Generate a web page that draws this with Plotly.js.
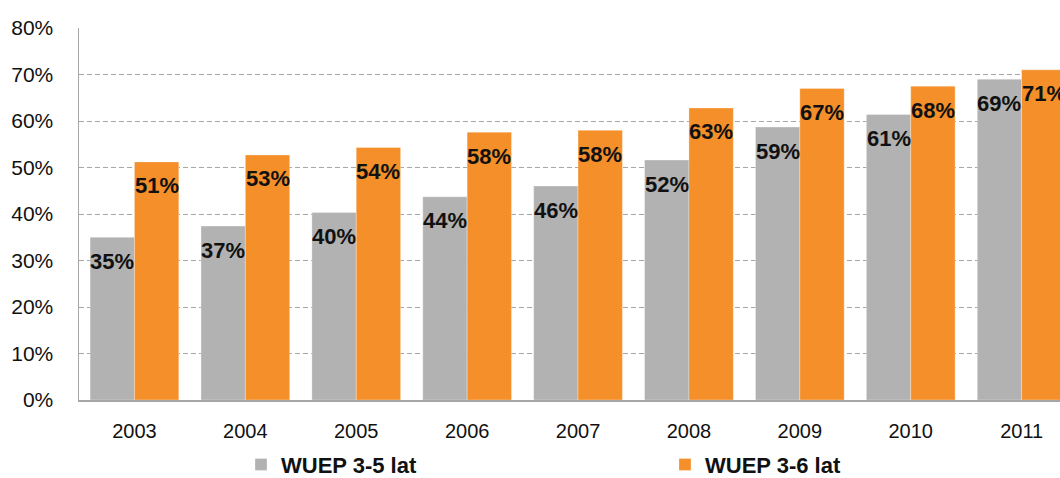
<!DOCTYPE html>
<html>
<head>
<meta charset="utf-8">
<script src="https://cdn.plot.ly/plotly-3.0.1.min.js"></script>
<style>
  html, body { margin: 0; padding: 0; background: #ffffff; overflow: hidden; }
  #chart { width: 1060px; height: 478px; }
</style>
</head>
<body>
<div id="chart"></div>
<script>
const years = ['2003', '2004', '2005', '2006', '2007', '2008', '2009', '2010', '2011'];
const wuep35 = [35.0, 37.4, 40.3, 43.7, 46.0, 51.6, 58.7, 61.4, 69.0];
const wuep36 = [51.2, 52.7, 54.3, 57.6, 58.0, 62.8, 67.0, 67.5, 71.0];
const labels35 = ['35%', '37%', '40%', '44%', '46%', '52%', '59%', '61%', '69%'];
const labels36 = ['51%', '53%', '54%', '58%', '58%', '63%', '67%', '68%', '71%'];
const seriesNames = ['WUEP 3-5 lat', 'WUEP 3-6 lat'];
const yTicks = [0, 10, 20, 30, 40, 50, 60, 70, 80];
const yTickText = yTicks.map(v => v + '%');

const FONT = 'Liberation Sans, Arial, sans-serif';
const GRAY = '#B2B2B2';
const ORANGE = '#F48F29';

const traces = [
  {
    type: 'bar', name: seriesNames[0], x: years, y: wuep35, legend: 'legend',
    marker: { color: GRAY, line: { color: 'rgba(255,255,255,0.6)', width: 0.5 } },
    hoverinfo: 'skip'
  },
  {
    type: 'bar', name: seriesNames[1], x: years, y: wuep36, legend: 'legend2',
    marker: { color: ORANGE, line: { color: 'rgba(255,255,255,0.6)', width: 0.5 } },
    hoverinfo: 'skip'
  }
];

const annotations = [];
years.forEach((yr, i) => {
  annotations.push({
    x: i - 0.2, y: wuep35[i], xref: 'x', yref: 'y', text: labels35[i],
    showarrow: false, yshift: -24, xanchor: 'center', yanchor: 'middle',
    font: { family: FONT, size: 22, color: '#111111', weight: 'bold' }
  });
  annotations.push({
    x: i + 0.2, y: wuep36[i], xref: 'x', yref: 'y', text: labels36[i],
    showarrow: false, yshift: -24, xanchor: 'center', yanchor: 'middle',
    font: { family: FONT, size: 22, color: '#111111', weight: 'bold' }
  });
});

const legendCommon = {
  orientation: 'h',
  xref: 'container', yref: 'container',
  xanchor: 'left', yanchor: 'middle',
  y: 0.028,
  itemwidth: 30,
  borderwidth: 0,
  font: { family: FONT, size: 22, color: '#111111', weight: 'bold' },
  bgcolor: 'rgba(0,0,0,0)'
};

const layout = {
  width: 1060, height: 478,
  margin: { l: 79, r: 0, t: 28, b: 78, pad: 0 },
  paper_bgcolor: '#ffffff', plot_bgcolor: '#ffffff',
  barmode: 'group', bargap: 0.2, bargroupgap: 0,
  font: { family: FONT, color: '#111111' },
  xaxis: {
    type: 'category',
    range: [-0.5, 8.346],
    showgrid: false,
    showline: true, linecolor: '#A6A6A6', linewidth: 1.5,
    ticks: '', ticklabelstandoff: 12,
    tickfont: { family: FONT, size: 20, color: '#111111' },
    fixedrange: true, automargin: false
  },
  yaxis: {
    range: [0, 80],
    tickmode: 'array', tickvals: yTicks, ticktext: yTickText,
    showgrid: true, gridcolor: '#A6A6A6', gridwidth: 1, griddash: '5px,3px',
    showline: true, linecolor: '#A6A6A6', linewidth: 1.5,
    zeroline: false,
    ticks: '', ticklabelstandoff: 20,
    tickfont: { family: FONT, size: 21, color: '#111111' },
    fixedrange: true, automargin: false
  },
  showlegend: true,
  legend: Object.assign({}, legendCommon, { x: 241 / 1060 }),
  legend2: Object.assign({}, legendCommon, { x: 665 / 1060 }),
  annotations: annotations
};

Plotly.newPlot('chart', traces, layout, { displayModeBar: false, staticPlot: true });
</script>
</body>
</html>
